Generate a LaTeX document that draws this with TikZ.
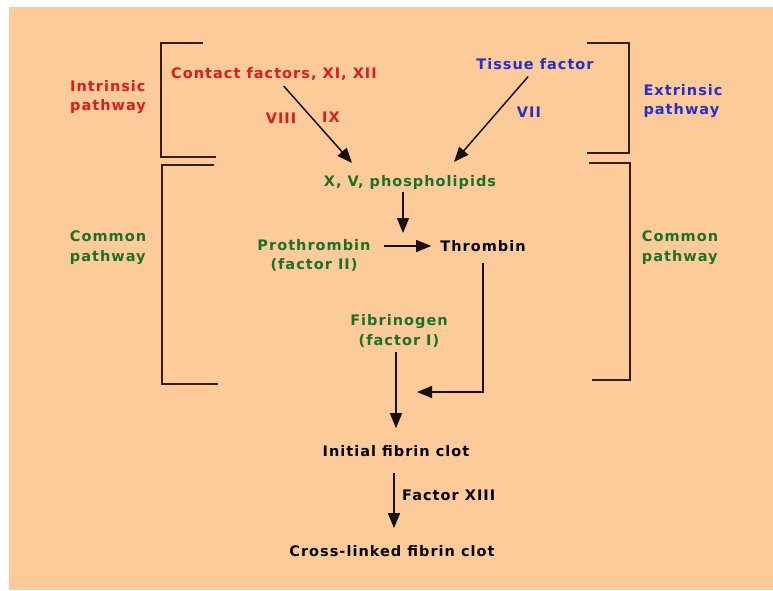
\documentclass[tikz,border=0pt]{standalone}
\usepackage{fontspec}
\newfontfamily\chic{DejaVu Sans}[LetterSpace=7]
\usetikzlibrary{arrows.meta}
\definecolor{bg}{RGB}{253,203,153}
\definecolor{tred}{RGB}{222,28,28}
\definecolor{tblue}{RGB}{38,48,200}
\definecolor{tgreen}{RGB}{28,112,40}
\definecolor{ln}{RGB}{55,30,30}
\definecolor{ar}{RGB}{25,15,15}
\begin{document}
\begin{tikzpicture}[x=1pt,y=-1pt,
  lbl/.style={inner sep=0pt, font=\chic\bfseries\fontsize{14.5}{19.5}\selectfont, align=center},
  arr/.style={draw=ar, line width=1.5pt, -{Triangle[length=15pt,width=12pt]}},
  brk/.style={draw=ln, line width=2pt}]
\useasboundingbox (0,0) rectangle (773,590);
\fill[white] (0,0) rectangle (773,590);
\fill[bg] (9,7) rectangle (773,590);

% brackets
\draw[brk] (203,43) -- (161,43) -- (161,157) -- (216,157);
\draw[brk] (214,165) -- (162,165) -- (162,384) -- (218,384);
\draw[brk] (587,43) -- (629,43) -- (629,153) -- (587,153);
\draw[brk] (589,163) -- (630,163) -- (630,380) -- (592,380);

% labels
\node[lbl,text=tred,align=left] (intr) at (108,97) {Intrinsic\\pathway};
\node[lbl,text=tred] (contact) at (274,74) {Contact factors, XI, XII};
\node[lbl,text=tred] (viii) at (281,118) {VIII};
\node[lbl,text=tred] (ix) at (331,117) {IX};
\node[lbl,text=tblue] (tissue) at (535,64) {Tissue factor};
\node[lbl,text=tblue] (vii) at (529,112) {VII};
\node[lbl,text=tblue,align=left] (extr) at (683,101) {Extrinsic\\pathway};
\node[lbl,text=tgreen] (xv) at (410,182) {X, V, phospholipids};
\node[lbl,text=tgreen] (prothr) at (314,255.5) {Prothrombin\\(factor II)};
\node[lbl] (thromb) at (483,246) {Thrombin};
\node[lbl,text=tgreen] (fibg) at (399,331) {Fibrinogen\\(factor I)};
\node[lbl] (init) at (396,451) {Initial fibrin clot};
\node[lbl,anchor=west] (f13) at (402,495) {Factor XIII};
\node[lbl] (cross) at (392,551) {Cross-linked fibrin clot};
\node[lbl,text=tgreen,align=left] (comL) at (108,247.5) {Common\\pathway};
\node[lbl,text=tgreen,align=left] (comR) at (680,247.5) {Common\\pathway};

% connectors
\coordinate (xvL) at (352,163);
\coordinate (xvR) at (454,162);
\coordinate (pt) at (403,247);
\coordinate (ft) at (396,392);
\draw[arr,shorten <=7pt] ([xshift=5pt]contact.south) -- (xvL);
\draw[arr,shorten <=9pt] ([xshift=-1pt]tissue.south) -- (xvR);
\draw[arr,shorten <=3pt,shorten >=14pt] (xv.south -| pt) -- (pt);
\draw[arr] (384,0 |- thromb.west) -- ([xshift=-9pt]thromb.west);
\draw[arr,shorten <=11pt,shorten >=21pt] (thromb.south) |- (ft);
\draw[arr,shorten <=5pt,shorten >=17pt] (init.north |- fibg.south) -- (init.north);
\draw[arr,shorten <=16pt,shorten >=17pt] ([xshift=-2pt]init.south) -- ([xshift=2pt]cross.north);
\end{tikzpicture}
\end{document}
